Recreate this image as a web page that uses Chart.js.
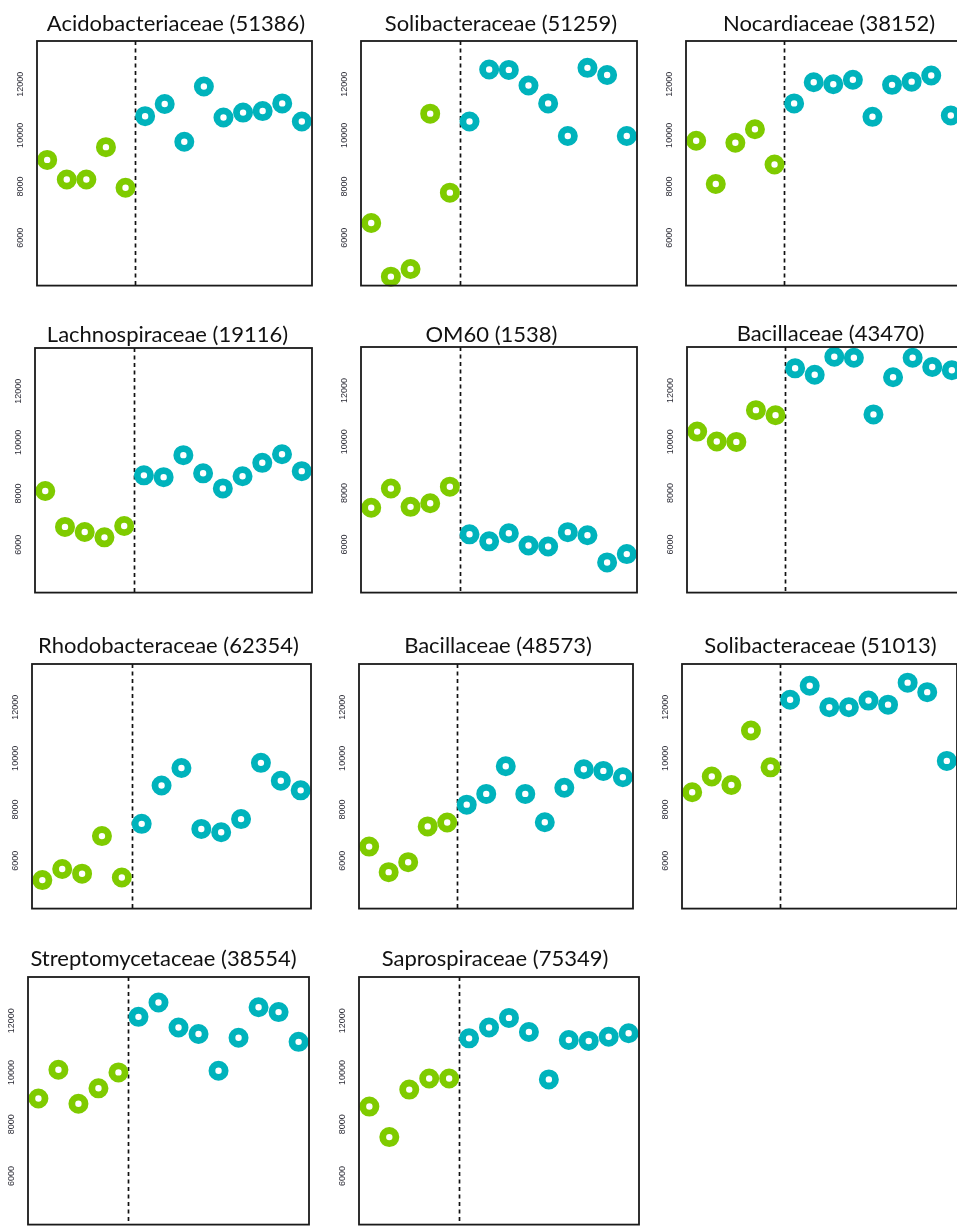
<!DOCTYPE html>
<html>
<head>
<meta charset="utf-8">
<title>Family abundance before and after</title>
<script src="https://cdn.jsdelivr.net/npm/chart.js@4.4.1/dist/chart.umd.min.js"></script>
<style>
  html, body { margin: 0; padding: 0; background: #ffffff; }
  body { width: 957px; height: 1232px; position: relative; overflow: hidden; }
  canvas { position: absolute; }
</style>
</head>
<body>
<script>
// Sample positions along the x axis; the first five are the "before" group.
const samples = [1, 2, 3, 4, 5, 6, 7, 8, 9, 10, 11, 12, 13, 14];
const beforeCount = 5;
const yTickValues = [6000, 8000, 10000, 12000];
const yRange = [4125, 13690];

const panelTitles = [
  'Acidobacteriaceae (51386)', 'Solibacteraceae (51259)', 'Nocardiaceae (38152)',
  'Lachnospiraceae (19116)', 'OM60 (1538)', 'Bacillaceae (43470)',
  'Rhodobacteraceae (62354)', 'Bacillaceae (48573)', 'Solibacteraceae (51013)',
  'Streptomycetaceae (38554)', 'Saprospiraceae (75349)'
];

const acidobacteriaceae51386 = [9040, 8275, 8275, 9540, 7950, 10750, 11225, 9750, 11910, 10700, 10890, 10950, 11250, 10540];
const solibacteraceae51259  = [6575, 4475, 4775, 10850, 7760, 10540, 12575, 12560, 11950, 11250, 9975, 12640, 12360, 9975];
const nocardiaceae38152     = [9790, 8100, 9710, 10240, 8860, 11250, 12075, 12000, 12175, 10725, 11975, 12100, 12340, 10775];
const lachnospiraceae19116  = [8100, 6695, 6495, 6285, 6730, 8710, 8640, 9500, 8790, 8200, 8675, 9200, 9535, 8875];
const om60_1538             = [7430, 8180, 7465, 7605, 8250, 6395, 6120, 6435, 5960, 5920, 6480, 6360, 5300, 5625];
const bacillaceae43470      = [10395, 10010, 9995, 11230, 11030, 12860, 12610, 13310, 13270, 11065, 12510, 13270, 12910, 12785];
const rhodobacteraceae62354 = [5240, 5675, 5490, 6960, 5340, 7440, 8940, 9625, 7240, 7110, 7625, 9825, 9125, 8750];
const bacillaceae48573      = [6550, 5550, 5940, 7340, 7490, 8190, 8610, 9690, 8610, 7500, 8850, 9575, 9510, 9260];
const solibacteraceae51013  = [8675, 9290, 8960, 11090, 9650, 12290, 12840, 12000, 12000, 12260, 12100, 12960, 12590, 9900];
const streptomycetaceae38554 = [8995, 10105, 8795, 9390, 10005, 12150, 12705, 11740, 11490, 10070, 11345, 12520, 12335, 11185];
const saprospiraceae75349   = [8685, 7505, 9340, 9770, 9770, 11320, 11740, 12110, 11565, 9735, 11255, 11220, 11380, 11515];

const panelValues = [
  acidobacteriaceae51386, solibacteraceae51259, nocardiaceae38152,
  lachnospiraceae19116, om60_1538, bacillaceae43470,
  rhodobacteraceae62354, bacillaceae48573, solibacteraceae51013,
  streptomycetaceae38554, saprospiraceae75349
];

// Plot-box placement on the page: left, top, width, height,
// horizontal title shift and distance from title middle to the box.
const panelBoxes = [
  [37, 41, 275, 255, 1.5, 17], [361, 41, 276, 255, 2, 17], [686, 41, 275, 255, 5.5, 17],
  [35, 348, 277, 255, -6, 13], [361, 347, 276, 256, -7.5, 12.5], [687, 347, 275, 256, 6, 13],
  [32, 664, 279, 255, -3, 18], [359, 664, 274, 255, 2, 18], [682, 664, 275, 255, 1, 18],
  [28, 977, 281, 258, -5, 18], [359, 977, 280, 258, -4, 18]
];

const GREEN = '#7fcb00';
const TEAL = '#00b3bc';
const AXIS_W = 37;
const TITLE_H = 50;
const TITLE_SIZE = 22;

// Vertical dashed separator between the two groups, drawn under the points.
const separatorPlugin = {
  id: 'separator',
  beforeDatasetsDraw(chart) {
    const { ctx, chartArea, scales } = chart;
    const x = scales.x.getPixelForValue((samples[beforeCount - 1] + samples[beforeCount]) / 2);
    ctx.save();
    ctx.strokeStyle = '#111111';
    ctx.lineWidth = 1.7;
    ctx.setLineDash([4, 3.5]);
    ctx.beginPath();
    ctx.moveTo(Math.round(x) + 0.5, chartArea.top);
    ctx.lineTo(Math.round(x) + 0.5, chartArea.bottom);
    ctx.stroke();
    ctx.restore();
  }
};

// Frame around the plotting region.
const framePlugin = {
  id: 'frame',
  afterDatasetsDraw(chart) {
    const { ctx, chartArea } = chart;
    ctx.save();
    ctx.strokeStyle = '#1a1a1a';
    ctx.lineWidth = 1.8;
    ctx.strokeRect(chartArea.left, chartArea.top, chartArea.right - chartArea.left, chartArea.bottom - chartArea.top);
    ctx.restore();
  }
};

panelValues.forEach((values, i) => {
  const [left, top, w, h, dx, gap] = panelBoxes[i];
  // Empty right-hand axis keeps the full-width title centred where wanted.
  const rightSpace = AXIS_W + 2 * dx;
  const bottomPad = 3;
  const canvas = document.createElement('canvas');
  canvas.width = AXIS_W + w + rightSpace;
  canvas.height = TITLE_H + h + bottomPad;
  canvas.style.left = (left - AXIS_W) + 'px';
  canvas.style.top = (top - TITLE_H) + 'px';
  document.body.appendChild(canvas);

  const lh = TITLE_SIZE * 1.2;
  const points = samples.map((s, k) => ({ x: s, y: values[k] }));
  const colors = samples.map((s, k) => (k < beforeCount ? GREEN : TEAL));

  new Chart(canvas, {
    type: 'scatter',
    data: {
      datasets: [{
        data: points,
        pointRadius: 6.6,
        pointHoverRadius: 6.6,
        pointBorderWidth: 6.8,
        pointBorderColor: colors,
        pointBackgroundColor: '#ffffff',
        clip: false
      }]
    },
    options: {
      responsive: false,
      animation: false,
      events: [],
      layout: { padding: { left: 0, top: 0, right: 0, bottom: bottomPad } },
      plugins: {
        legend: { display: false },
        tooltip: { enabled: false },
        title: {
          display: true,
          text: panelTitles[i],
          color: '#111111',
          font: { family: 'Lato, "Open Sans", sans-serif', size: TITLE_SIZE, weight: 'normal', lineHeight: 1.2 },
          padding: { top: TITLE_H - gap - lh / 2, bottom: gap - lh / 2 }
        }
      },
      scales: {
        x: {
          type: 'linear',
          min: 0.48,
          max: 14.52,
          display: false
        },
        y: {
          type: 'linear',
          position: 'left',
          min: yRange[0],
          max: yRange[1],
          border: { display: false },
          grid: { display: false, drawTicks: false },
          afterBuildTicks(scale) {
            scale.ticks = yTickValues.map(v => ({ value: v }));
          },
          afterFit(scale) { scale.width = AXIS_W; },
          ticks: {
            minRotation: 90,
            maxRotation: 90,
            crossAlign: 'center',
            padding: 4,
            color: '#2e2e38',
            font: { family: '"Liberation Sans", Arial, sans-serif', size: 9 },
            callback: v => String(v)
          }
        },
        spacer: {
          type: 'linear',
          position: 'right',
          display: true,
          border: { display: false },
          grid: { display: false, drawTicks: false },
          ticks: { display: false },
          afterFit(scale) { scale.width = rightSpace; }
        }
      }
    },
    plugins: [separatorPlugin, framePlugin]
  });
});
</script>
</body>
</html>
